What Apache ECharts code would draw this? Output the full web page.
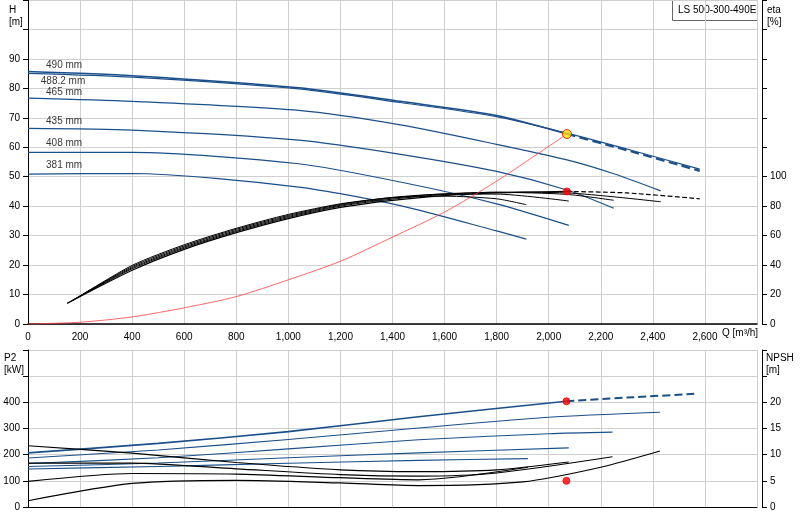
<!DOCTYPE html>
<html><head><meta charset="utf-8">
<script src="https://cdn.jsdelivr.net/npm/echarts@6/dist/echarts.min.js"></script>
<style>html,body{margin:0;padding:0;background:#fff}#c{width:800px;height:520px}</style>
</head><body><div id="c"></div>
<script>
// Head curves [Q, H]
const h490 = [[0,85.7],[400,84.3],[1040,80.2],[1430,75.6],[1800,70.8],[2070,64.5]];
const h490d = [[2070,64.5],[2300,59],[2580,52]];
const h488 = [[0,85.1],[400,83.8],[1040,79.8],[1430,75.2],[1800,70.4],[2070,64.8],[2300,59.4],[2580,52.6]];
const h465 = [[0,76.7],[400,75.6],[1040,72.5],[1430,67.6],[1800,61],[2070,55.7],[2250,51],[2430,45.2]];
const h435 = [[0,66.4],[400,65.8],[1040,62.4],[1430,57.6],[1800,51.8],[2070,45.5],[2250,39.3]];
const h408 = [[0,58.3],[400,58.3],[1040,54.4],[1430,48.2],[1800,40.8],[2077,33.5]];
const h381 = [[0,50.9],[400,51.1],[1040,46.5],[1430,40.2],[1800,31.6],[1914,28.8]];
// Efficiency curves [Q, eta]
const e490 = [[150,14],[400,36.5],[600,50.7],[800,62],[1000,71.6],[1200,79.2],[1400,84],[1600,87.2],[1800,89],[2070,90]];
const e490d = [[2070,90],[2300,89],[2580,85]];
const e465 = [[160,15],[400,37.5],[600,51.5],[800,62.8],[1000,72.3],[1200,80],[1400,84.8],[1600,88],[1800,89.5],[2070,89],[2430,83]];
const e435 = [[170,16],[400,38.2],[600,52.2],[800,63.5],[1000,73],[1200,80.6],[1400,85.5],[1600,88.4],[1800,89.4],[2070,88],[2250,84]];
const e408 = [[180,17],[400,39],[600,53],[800,64.3],[1000,73.7],[1200,81.2],[1400,86],[1600,88.2],[1800,88.2],[2077,83.5]];
const e381 = [[190,18],[400,39.8],[600,53.8],[800,65],[1000,74.4],[1200,81.6],[1400,85.8],[1600,86.8],[1800,85],[1914,81]];
// System curve [Q, H]
const sys = [[0,0],[200,0.6],[400,2.4],[600,5.5],[800,9.3],[1000,15],[1200,21.3],[1400,29.5],[1600,38],[1800,48.5],[2070,64.5]];
// P2 curves [Q, kW]
const p490 = [[0,207],[500,243],[1000,288],[1500,345],[2068,404]];
const p490d = [[2068,404],[2300,418],[2570,433]];
const p465 = [[0,187],[500,218],[1000,258],[1500,302],[2000,343],[2427,362]];
const p435 = [[0,166],[500,188],[1000,222],[1500,257],[2000,280],[2245,286]];
const p408 = [[0,155],[500,168],[1000,188],[1500,207],[2077,226]];
const p381 = [[0,145],[500,155],[1000,167],[1500,178],[1920,185]];
// NPSH curves [Q, m]
const n1 = [[0,11.7],[400,10.3],[800,8.5],[1200,7.1],[1500,6.75],[1800,7.1],[2077,8.6]];
const n2 = [[0,8.4],[400,8.4],[800,7.3],[1200,6.2],[1500,5.9],[1800,6.5],[2245,9.6]];
const n3 = [[0,4.9],[400,6.4],[800,6.3],[1200,5.6],[1500,5.2],[1920,7.6]];
const n4 = [[0,1.2],[400,4.5],[800,5.1],[1200,4.6],[1500,4.1],[1900,4.8],[2200,7.6],[2427,10.7]];
// Duty points
const dutyH = [[2070,64.5]];
const dutyEta = [[2070,90]];
const dutyP = [[2068,404]];
const dutyN = [[2068,5]];
// Diameter labels [Q, H, text]
const diaLabels = [[50,87.8,'490 mm'],[30,82.5,'488.2 mm'],[50,78.7,'465 mm'],[50,68.7,'435 mm'],[50,61.2,'408 mm'],[50,53.8,'381 mm']];
const xTicks = [0,200,400,600,800,1000,1200,1400,1600,1800,2000,2200,2400,2600];

const blue = '#1a4f8a';
const fmt = v => xTicks.includes(v) ? v.toLocaleString('en-US') : '';
const lbl = {fontFamily:'Liberation Sans',fontSize:10,color:'#000'};
const gridLine = {show:true,lineStyle:{color:'#cfcfcf',width:1}};
function line(data,x,y,color,w,dash){return {type:'line',data,xAxisIndex:x,yAxisIndex:y,smooth:0.25,symbol:'none',silent:true,lineStyle:{color,width:w,type:dash?'dashed':'solid'}};}
function dot(data,x,y,color,size){return {type:'scatter',data,xAxisIndex:x,yAxisIndex:y,symbolSize:size,itemStyle:{color,borderColor:'#e00',borderWidth:1},z:10};}

const chart = echarts.init(document.getElementById('c'));
chart.setOption({
  animation:false,
  grid:[{left:28,right:43,top:0,height:324},{left:28,right:43,top:350,height:157}],
  xAxis:[
    {gridIndex:0,type:'value',min:0,max:2800,interval:200,axisLine:{lineStyle:{color:'#000',width:1.5}},axisTick:{show:false},axisLabel:{...lbl,formatter:fmt},splitLine:gridLine},
    {gridIndex:1,type:'value',min:0,max:2800,interval:200,axisLine:{lineStyle:{color:'#000'}},axisTick:{show:false},axisLabel:{show:false},splitLine:gridLine}
  ],
  yAxis:[
    {gridIndex:0,type:'value',min:0,max:110,interval:10,axisLine:{show:true,lineStyle:{color:'#000'}},axisTick:{show:true,length:5,lineStyle:{color:'#000'}},axisLabel:{...lbl,margin:8,formatter:v=>v<=90?v:''},splitLine:gridLine},
    {gridIndex:0,type:'value',position:'right',offset:5,min:0,max:220,interval:20,axisLine:{show:true,lineStyle:{color:'#000'}},axisTick:{show:true,length:5,lineStyle:{color:'#000'}},axisLabel:{...lbl,formatter:v=>v<=100?v:''},splitLine:{show:false}},
    {gridIndex:1,type:'value',min:0,max:600,interval:100,axisLine:{show:true,lineStyle:{color:'#000'}},axisTick:{show:true,length:5,lineStyle:{color:'#000'}},axisLabel:{...lbl,formatter:v=>v<=400?v:''},splitLine:gridLine},
    {gridIndex:1,type:'value',position:'right',offset:5,min:0,max:30,interval:5,axisLine:{show:true,lineStyle:{color:'#000'}},axisTick:{show:true,length:5,lineStyle:{color:'#000'}},axisLabel:{...lbl,formatter:v=>v<=20?v:''},splitLine:{show:false}}
  ],
  graphic:[
    {type:'text',left:9,top:4,style:{text:'H\n[m]',font:'10px Liberation Sans',align:'center',lineHeight:12}},
    {type:'text',left:767,top:4,style:{text:'eta\n[%]',font:'10px Liberation Sans',lineHeight:12}},
    {type:'text',left:4,top:352,style:{text:'P2\n[kW]',font:'10px Liberation Sans',lineHeight:12}},
    {type:'text',left:766,top:352,style:{text:'NPSH\n[m]',font:'10px Liberation Sans',lineHeight:12}},
    {type:'text',left:722,top:328,style:{text:'Q [m³/h]',font:'10px Liberation Sans'}},
    {type:'rect',left:672,top:0,shape:{width:85,height:20},style:{fill:'#fff',stroke:'#666'}},
    {type:'text',left:678,top:5,style:{text:'LS 500-300-490E',font:'10px Liberation Sans'}}
  ],
  series:[
    line(h490,0,0,blue,1.6),line(h490d,0,0,blue,2.2,true),line(h488,0,0,blue,1.2),
    line(h465,0,0,blue,1.2),line(h435,0,0,blue,1.2),line(h408,0,0,blue,1.2),line(h381,0,0,blue,1.2),
    line(e490,0,1,'#000',1.2),line(e490d,0,1,'#000',1.2,true),line(e465,0,1,'#000',1),line(e435,0,1,'#000',1),line(e408,0,1,'#000',1),line(e381,0,1,'#000',1),
    line(sys,0,0,'#ff4040',0.8),
    line(p490,1,2,blue,1.6),line(p490d,1,2,blue,2,true),line(p465,1,2,blue,1.1),line(p435,1,2,blue,1.1),line(p408,1,2,blue,1.1),line(p381,1,2,blue,1.1),
    line(n1,1,3,'#000',1.2),line(n2,1,3,'#000',1.2),line(n3,1,3,'#000',1.2),line(n4,1,3,'#000',1.2),
    {type:'scatter',xAxisIndex:0,yAxisIndex:0,symbolSize:0,silent:true,data:diaLabels.map(d=>({value:[d[0],d[1]],label:{show:true,position:'right',formatter:d[2],fontFamily:'Liberation Sans',fontSize:10,color:'#000'}}))},
    dot(dutyH,0,0,'#ffe000',9),dot(dutyEta,0,1,'#f00',7),dot(dutyP,1,2,'#f00',7),dot(dutyN,1,3,'#f00',7)
  ]
});
</script></body></html>
